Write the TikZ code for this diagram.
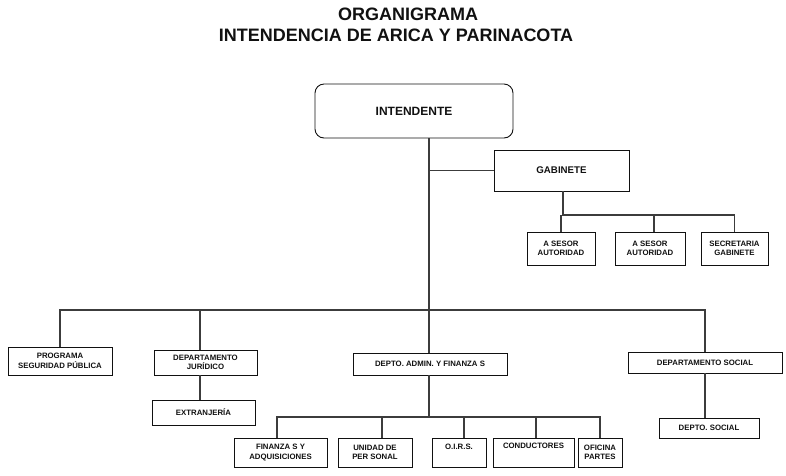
\documentclass[tikz,border=0pt]{standalone}
\usepackage{fontspec}
\setmainfont{Liberation Sans}
\usetikzlibrary{positioning,calc}
\definecolor{ink}{HTML}{111111}
\definecolor{wire}{HTML}{3C3C3C}
\newcommand{\boxfont}{\bfseries\fontsize{7.8}{9.4}\selectfont}
\tikzset{
  every node/.style={text=ink},
  % one box style; width and height are given per node
  unit/.style={draw=ink, fill=white, line width=0.9pt, align=center, inner sep=1pt, font=\boxfont},
  head/.style={unit, rounded corners=9pt, font=\bfseries\fontsize{12}{14}\selectfont},
  ttl/.style={font=\bfseries\fontsize{18}{21}\selectfont, inner sep=0pt},
  link/.style={draw=wire, line width=1.1pt},
}
\begin{document}
\begin{tikzpicture}[x=1pt,y=-1pt]
  \useasboundingbox (0,0) rectangle (786,475);

  % ---- title ----
  \node[ttl] (t1) at (408,14) {ORGANIGRAMA};
  \node[ttl] (t2) at (396,35) {INTENDENCIA DE ARICA Y PARINACOTA};

  % ---- top: intendente and gabinete ----
  \node[head, minimum width=198pt, minimum height=54pt] (intend) at (414,111) {INTENDENTE};
  \node[unit, minimum width=135pt, minimum height=41pt, font=\bfseries\fontsize{9.7}{11}\selectfont] (gab) at (561.5,170.5) {GABINETE};
  \node[unit, minimum width=68pt, minimum height=33pt] (ases1) at (561,248.5) {A SESOR\\AUTORIDAD};
  \node[unit, minimum width=70pt, minimum height=33pt] (ases2) at (650,248.5) {A SESOR\\AUTORIDAD};
  \node[unit, minimum width=67pt, minimum height=33pt] (secr)  at (734.5,248.5) {SECRETARIA\\GABINETE};

  % ---- middle row ----
  \node[unit, minimum width=104pt, minimum height=28pt] (prog)  at (60,361)    {PROGRAMA\\SEGURIDAD PÚBLICA};
  \node[unit, minimum width=103pt, minimum height=25pt] (jur)   at (205.5,362.5) {DEPARTAMENTO\\JURÍDICO};
  \node[unit, minimum width=103pt, minimum height=25pt] (extr)  at (203.5,412.5) {EXTRANJERÍA};
  \node[unit, minimum width=154pt, minimum height=22pt] (admin) at (430,364)   {DEPTO. ADMIN. Y FINANZA S};
  \node[unit, minimum width=154pt, minimum height=21pt] (soc)   at (705,362.5) {DEPARTAMENTO SOCIAL};
  \node[unit, minimum width=100pt, minimum height=20pt] (dsoc)  at (709,428)   {DEPTO. SOCIAL};

  % ---- bottom row ----
  \node[unit, minimum width=93pt, minimum height=29pt] (fin)  at (280.5,452.5) {FINANZA S Y\\ADQUISICIONES};
  \node[unit, minimum width=74pt, minimum height=29pt] (pers) at (375,452.5)   {UNIDAD DE\\PER SONAL};
  \node[unit, minimum width=54pt, minimum height=29pt] (oirs) at (459,452.5)   {O.I.R.S.\\[3pt]};
  \node[unit, minimum width=81pt, minimum height=29pt] (cond) at (533.5,452.5) {CONDUCTORES\\[5pt]};
  \node[unit, minimum width=44pt, minimum height=29pt] (ofic) at (600,452.5)   {OFICINA\\PARTES};

  % ---- connectors ----
  \coordinate (busA) at (0,310);
  \coordinate (busB) at (0,215);
  \coordinate (busC) at (0,417);

  \draw[link] (admin.north -| 429,0) -- (intend.south -| 429,0);
  \draw[link] (gab.west) -- (gab.west -| 429,0);

  \draw[link] (prog.north) |- (busA -| soc.north) -- (soc.north);
  \draw[link] (busA -| 200,0) -- (jur.north -| 200,0);
  \draw[link] (jur.south -| 200,0) -- (extr.north -| 200,0);
  \draw[link] (soc.south) -- (dsoc.north -| soc.south);

  \draw[link] (gab.south -| 563,0) -- (busB -| 563,0) -- (busB -| secr.north) -- (secr.north);
  \draw[link] (busB -| ases1.north) -- (ases1.north);
  \draw[link] (busB -| 654,0) -- (ases2.north -| 654,0);

  \draw[link] (admin.south -| 429,0) -- (busC -| 429,0);
  \draw[link] (fin.north -| 277,0) |- (busC -| ofic.north) -- (ofic.north);
  \draw[link] (busC -| 382,0) -- (pers.north -| 382,0);
  \draw[link] (busC -| 464,0) -- (oirs.north -| 464,0);
  \draw[link] (busC -| 536,0) -- (cond.north -| 536,0);
\end{tikzpicture}
\end{document}
